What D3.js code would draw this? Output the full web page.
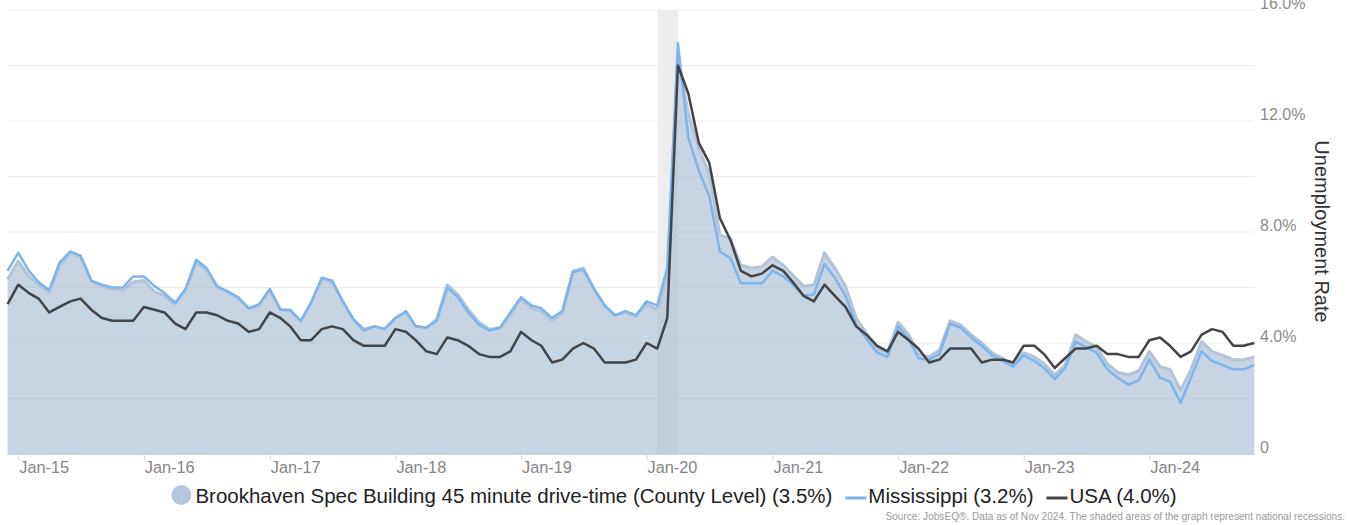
<!DOCTYPE html>
<html>
<head>
<meta charset="utf-8">
<script src="https://cdn.jsdelivr.net/npm/d3@7"></script>
<style>
  body { margin: 0; background: #fff; }
  svg { display: block; font-family: "Liberation Sans", Arial, sans-serif; }
</style>
</head>
<body>
<svg id="chart" width="1348" height="525"></svg>
<script>
// monthly points, Dec 2014 .. Nov 2024
const months = d3.utcMonth.range(new Date(Date.UTC(2014, 11, 1)), new Date(Date.UTC(2024, 11, 1)));

const brookhaven = [
  6.3, 6.95, 6.4, 6.1, 5.85, 6.8, 7.25, 7.1, 6.25, 6.05, 5.95, 5.9, 6.2,
  6.25, 5.85, 5.7, 5.4, 5.9, 6.9, 6.65, 6.0, 5.85, 5.6, 5.25, 5.35,
  5.9, 5.2, 5.15, 4.8, 5.45, 6.3, 6.2, 5.5, 4.85, 4.5, 4.6, 4.5,
  4.9, 5.1, 4.6, 4.55, 4.85, 6.1, 5.75, 5.2, 4.75, 4.5, 4.55, 5.0,
  5.6, 5.25, 5.15, 4.8, 5.1, 6.6, 6.7, 5.95, 5.35, 5.0, 5.1, 4.95,
  5.4, 5.2, 6.4, 14.3, 12.3, 11.0, 10.1, 7.9, 7.75, 6.8, 6.7, 6.75,
  7.1, 6.8, 6.45, 6.05, 6.1, 7.25, 6.7, 6.05, 4.9, 4.35, 3.8, 3.65,
  4.75, 4.3, 3.6, 3.5, 3.75, 4.8, 4.65, 4.3, 4.0, 3.65, 3.45, 3.25,
  3.65, 3.5, 3.25, 2.85, 3.2, 4.3, 4.05, 3.85, 3.25, 2.95, 2.85, 3.0,
  3.7, 3.15, 3.05, 2.3, 3.05, 4.05, 3.7, 3.55, 3.4, 3.4, 3.5
];
const mississippi = [
  6.6, 7.25, 6.6, 6.2, 5.9, 6.9, 7.3, 7.15, 6.25, 6.1, 6.0, 6.0, 6.4,
  6.4, 6.05, 5.8, 5.45, 5.95, 7.0, 6.7, 6.05, 5.85, 5.65, 5.25, 5.4,
  5.95, 5.2, 5.2, 4.8, 5.45, 6.35, 6.25, 5.5, 4.85, 4.45, 4.6, 4.5,
  4.9, 5.15, 4.6, 4.55, 4.8, 6.0, 5.65, 5.1, 4.65, 4.45, 4.55, 5.1,
  5.65, 5.35, 5.25, 4.9, 5.15, 6.55, 6.65, 5.95, 5.35, 5.0, 5.15, 5.0,
  5.5, 5.35, 6.7, 14.8, 11.4, 10.2, 9.3, 7.3, 7.05, 6.15, 6.15, 6.15,
  6.6, 6.4, 6.1, 5.7, 5.75, 6.85, 6.35, 5.7, 4.65, 4.15, 3.65, 3.5,
  4.6, 4.15, 3.45, 3.4, 3.6, 4.7, 4.55, 4.2, 3.9, 3.55, 3.35, 3.15,
  3.55, 3.35, 3.1, 2.7, 3.1, 4.05, 3.85, 3.65, 3.05, 2.75, 2.5, 2.65,
  3.4, 2.75, 2.6, 1.85, 2.75, 3.7, 3.35, 3.2, 3.05, 3.05, 3.2
];
const usa = [
  5.4, 6.1, 5.8, 5.6, 5.1, 5.3, 5.5, 5.6, 5.2, 4.9, 4.8, 4.8, 4.8,
  5.3, 5.2, 5.1, 4.7, 4.5, 5.1, 5.1, 5.0, 4.8, 4.7, 4.4, 4.5,
  5.1, 4.9, 4.6, 4.1, 4.1, 4.5, 4.6, 4.5, 4.1, 3.9, 3.9, 3.9,
  4.5, 4.4, 4.1, 3.7, 3.6, 4.2, 4.1, 3.9, 3.6, 3.5, 3.5, 3.7,
  4.4, 4.1, 3.9, 3.3, 3.4, 3.8, 4.0, 3.8, 3.3, 3.3, 3.3, 3.4,
  4.0, 3.8, 4.9, 14.0, 13.0, 11.2, 10.5, 8.5, 7.7, 6.6, 6.4, 6.5,
  6.8, 6.6, 6.2, 5.7, 5.5, 6.1, 5.7, 5.3, 4.6, 4.3, 3.9, 3.7,
  4.4, 4.1, 3.8, 3.3, 3.4, 3.8, 3.8, 3.8, 3.3, 3.4, 3.4, 3.3,
  3.9, 3.9, 3.6, 3.1, 3.45, 3.8, 3.8, 3.9, 3.6, 3.6, 3.5, 3.5,
  4.1, 4.2, 3.9, 3.5, 3.7, 4.3, 4.5, 4.4, 3.9, 3.9, 4.0
];

const gridValues = [0, 2, 4, 6, 8, 10, 12, 14, 16];
const yTickValues = [0, 4, 8, 12, 16];
const yTickLabels = ["0", "4.0%", "8.0%", "12.0%", "16.0%"];
const recession = [new Date(Date.UTC(2020, 1, 1)), new Date(Date.UTC(2020, 3, 1))];
const legendItems = [
  "Brookhaven Spec Building 45 minute drive-time (County Level) (3.5%)",
  "Mississippi (3.2%)",
  "USA (4.0%)"
];

const svg = d3.select("#chart");
const plotLeft = 7.6, plotRight = 1254.3, plotTop = 10, plotBottom = 454;

const x = d3.scaleUtc()
  .domain([months[0], months[months.length - 1]])
  .range([plotLeft, plotRight]);
const y = d3.scaleLinear().domain([0, 16]).range([plotBottom, plotTop]);

// grid
svg.append("g").selectAll("line").data(gridValues).join("line")
  .attr("x1", plotLeft).attr("x2", plotRight)
  .attr("y1", d => y(d)).attr("y2", d => y(d))
  .attr("stroke", "#ececec").attr("stroke-width", 1);

// recession band
svg.append("rect")
  .attr("x", x(recession[0])).attr("width", x(recession[1]) - x(recession[0]))
  .attr("y", plotTop).attr("height", plotBottom - plotTop)
  .attr("fill", "#ededed");

const area = d3.area()
  .x((d, i) => x(months[i]))
  .y0(y(0))
  .y1(d => y(d));
const line = d3.line()
  .x((d, i) => x(months[i]))
  .y(d => y(d));

svg.append("path").datum(brookhaven)
  .attr("d", area)
  .attr("fill", "#a9bdd6").attr("fill-opacity", 0.65);
svg.append("path").datum(brookhaven)
  .attr("d", line)
  .attr("fill", "none").attr("stroke", "#b3c3d8").attr("stroke-width", 3)
  .attr("stroke-linejoin", "round");

svg.append("path").datum(mississippi)
  .attr("d", line)
  .attr("fill", "none").attr("stroke", "#7cb5ec").attr("stroke-width", 2.5)
  .attr("stroke-linejoin", "round");

svg.append("path").datum(usa)
  .attr("d", line)
  .attr("fill", "none").attr("stroke", "#434348").attr("stroke-width", 2.5)
  .attr("stroke-linejoin", "round");

// x axis
const years = d3.utcYear.range(new Date(Date.UTC(2015, 0, 1)), new Date(Date.UTC(2024, 1, 1)));
svg.append("line")
  .attr("x1", plotLeft).attr("x2", plotRight)
  .attr("y1", plotBottom + 0.5).attr("y2", plotBottom + 0.5)
  .attr("stroke", "#ccd6eb");
const xt = svg.append("g").selectAll("g").data(years).join("g")
  .attr("transform", d => `translate(${x(d)},0)`);
xt.append("line")
  .attr("x1", 0.5).attr("x2", 0.5)
  .attr("y1", plotBottom).attr("y2", plotBottom + 6)
  .attr("stroke", "#ccd6eb");
xt.append("text")
  .attr("x", 1).attr("y", 473)
  .attr("font-size", 16.3).attr("fill", "#858585")
  .text(d3.utcFormat("%b-%y"));

// y labels on the right
svg.append("g").selectAll("text").data(yTickValues).join("text")
  .attr("x", 1260).attr("y", d => y(d) - 1.5)
  .attr("font-size", 16).attr("fill", "#8c8c8c")
  .text((d, i) => yTickLabels[i]);

svg.append("text")
  .attr("transform", "translate(1315,231.5) rotate(90)")
  .attr("text-anchor", "middle")
  .attr("font-size", 20).attr("fill", "#333")
  .text("Unemployment Rate");

// legend
const lg = svg.append("g");
const lgY = 503;
let cx = 0;
legendItems.forEach((t, i) => {
  const g = lg.append("g");
  if (i === 0) {
    g.append("circle").attr("cx", cx + 10).attr("cy", lgY - 8).attr("r", 10).attr("fill", "#b3c6dd");
    cx += 24;
  } else {
    g.append("line").attr("x1", cx).attr("x2", cx + 21)
      .attr("y1", lgY - 5).attr("y2", lgY - 5)
      .attr("stroke", i === 1 ? "#7cb5ec" : "#434348").attr("stroke-width", 3);
    cx += 23;
  }
  const tx = g.append("text").attr("x", cx).attr("y", lgY)
    .attr("font-size", 20.5).attr("fill", "#222").text(t);
  cx += tx.node().getComputedTextLength() + 13;
});
const lgWidth = cx - 13;
lg.attr("transform", `translate(${674 - lgWidth / 2},0)`);

svg.append("text")
  .attr("x", 1345).attr("y", 520)
  .attr("text-anchor", "end")
  .attr("font-size", 10.1).attr("fill", "#999")
  .text("Source: JobsEQ®. Data as of Nov 2024. The shaded areas of the graph represent national recessions.");
</script>
</body>
</html>
